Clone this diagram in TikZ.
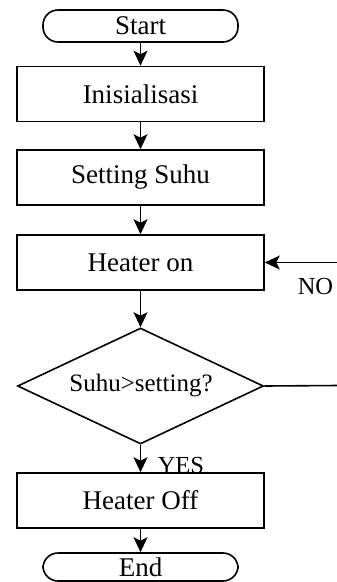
\documentclass[tikz,border=0pt]{standalone}
\usepackage{fontspec}
\setmainfont{Liberation Serif}
\usetikzlibrary{arrows.meta,shapes.geometric}
\begin{document}
\begin{tikzpicture}[x=1pt,y=-1pt,
  line width=1.6pt,
  base/.style={draw=black, inner sep=0pt, align=center, font=\fontsize{27pt}{30pt}\selectfont},
  terminal/.style={base, rounded corners=15pt, minimum width=195pt, minimum height=32pt},
  process/.style={base, rectangle, minimum width=247pt, minimum height=55pt},
  decision/.style={base, diamond, aspect=2.12, minimum width=246pt, minimum height=116pt, font=\fontsize{25pt}{28pt}\selectfont},
  lbl/.style={inner sep=0pt, font=\fontsize{24.5pt}{27pt}\selectfont},
  arr/.style={-{Stealth[length=15pt,width=14pt,inset=3.5pt]}}
]
\useasboundingbox (0,0) rectangle (337,582);
\node[terminal] (start) at (140.5,26) {Start};
\node[process] (init) at (140.5,94) {Inisialisasi};
\node[process] (set) at (140.5,177.5) {Setting Suhu};
\node[process] (hon) at (140.5,262.5) {Heater on};
\node[decision] (dec) at (140.5,386) {};
\node[font=\fontsize{25pt}{28pt}\selectfont, inner sep=0pt] (dectext) at (141,386) {Suhu>setting?};
\node[process] (hoff) at (140.5,500.5) {Heater Off};
\node[terminal, minimum height=28pt] (end) at (140.5,567) {};
\node[font=\fontsize{27pt}{30pt}\selectfont, inner sep=0pt, anchor=base] (endtext) at (140.5,576.5) {End};
\coordinate (r1) at (338,385.5);
\coordinate (r2) at (338,262.5);
\draw[arr] (start) -- (init);
\draw[arr] (init) -- (set);
\draw[arr] (set) -- (hon);
\draw[arr] (hon) -- (dec);
\draw[arr] (dec) -- (hoff);
\draw[arr] (hoff) -- (end);
\draw (dec.east) -- (r1);
\draw[arr] (r2) -- (hon.east);
\node[lbl, anchor=base west] (no) at (297,294) {NO};
\node[lbl, anchor=base west] (yes) at (157,473) {YES};
\end{tikzpicture}
\end{document}
